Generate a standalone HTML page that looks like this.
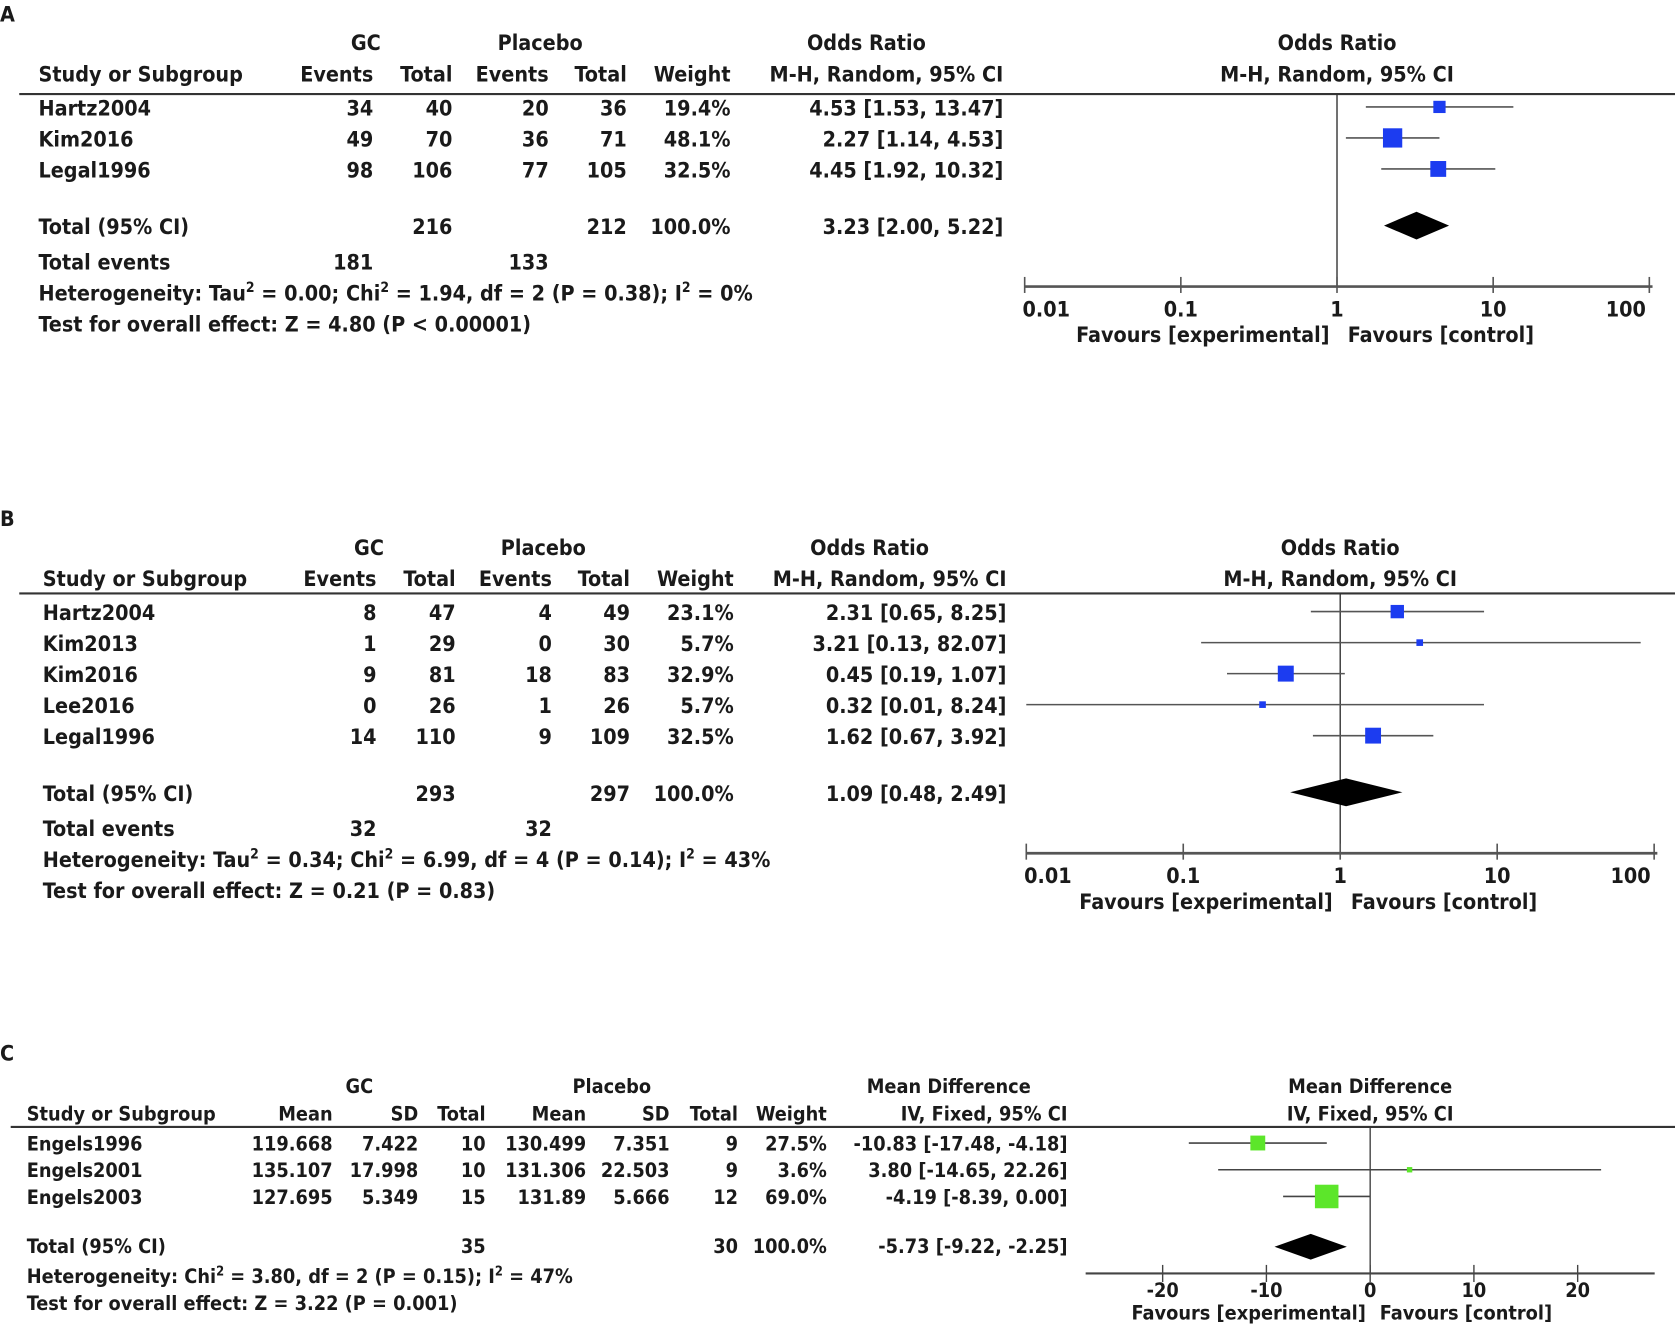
<!DOCTYPE html>
<html><head><meta charset="utf-8"><style>
html,body{margin:0;padding:0;background:#fff;width:1675px;height:1328px;overflow:hidden}
svg{display:block}
text{font-family:"DejaVu Sans Condensed","DejaVu Sans","Liberation Sans",sans-serif;font-weight:bold;fill:#1a1a1a}
</style></head><body>
<svg id="fig" width="1675" height="1328" viewBox="0 0 1566 1242" preserveAspectRatio="none" xmlns="http://www.w3.org/2000/svg"></svg>
<script>
// ---- Panel A data ----
const studiesA = ["Hartz2004","Kim2016","Legal1996"];
const gcEventsA = [34,49,98];
const gcTotalA = [40,70,106];
const plEventsA = [20,36,77];
const plTotalA = [36,71,105];
const weightA = [19.4,48.1,32.5];
const orA = [4.53,2.27,4.45];
const loA = [1.53,1.14,1.92];
const hiA = [13.47,4.53,10.32];
const totalA = {or:3.23, lo:2.00, hi:5.22};
// ---- Panel B data ----
const studiesB = ["Hartz2004","Kim2013","Kim2016","Lee2016","Legal1996"];
const gcEventsB = [8,1,9,0,14];
const gcTotalB = [47,29,81,26,110];
const plEventsB = [4,0,18,1,9];
const plTotalB = [49,30,83,26,109];
const weightB = [23.1,5.7,32.9,5.7,32.5];
const orB = [2.31,3.21,0.45,0.32,1.62];
const loB = [0.65,0.13,0.19,0.01,0.67];
const hiB = [8.25,82.07,1.07,8.24,3.92];
const totalB = {or:1.09, lo:0.48, hi:2.49};
// ---- Panel C data ----
const studiesC = ["Engels1996","Engels2001","Engels2003"];
const gcMeanC = ["119.668","135.107","127.695"];
const gcSdC = ["7.422","17.998","5.349"];
const gcTotalC = [10,10,15];
const plMeanC = ["130.499","131.306","131.89"];
const plSdC = ["7.351","22.503","5.666"];
const plTotalC = [9,9,12];
const weightC = [27.5,3.6,69.0];
const mdC = [-10.83,3.80,-4.19];
const loC = [-17.48,-14.65,-8.39];
const hiC = [-4.18,22.26,0.00];
const totalC = {md:-5.73, lo:-9.22, hi:-2.25};
const logTicks = [0.01,0.1,1,10,100];
const logTickLabels = ["0.01","0.1","1","10","100"];
const linTicks = [-20,-10,0,10,20];
const linTickLabels = ["-20","-10","0","10","20"];

const NS="http://www.w3.org/2000/svg";
const svg=document.getElementById('fig');
function el(tag,attrs,parent){const e=document.createElementNS(NS,tag);for(const k in attrs)e.setAttribute(k,attrs[k]);(parent||svg).appendChild(e);return e;}
function txt(x,y,s,size,anchor,name,parent){const t=el('text',{x:x,y:y,'font-size':size,'text-anchor':anchor||'start'},parent);t.textContent=s;


return t;}
function fmtSigned(v){return v<0?'-'+Math.abs(v).toFixed(2):v.toFixed(2);}

function oddsPanel(cfg){
  const g=el('g',{});
  
  
  const o=cfg.off, fs=20;
  txt(0,20+o.y,cfg.letter,20,'start','panel-label',g);
  const cx=o.cols;
  txt(cx[0]-7,47+o.y,'GC',fs,'middle','gc-header',g);
  txt(cx[2]-8,47+o.y,'Placebo',fs,'middle','placebo-header',g);
  txt(cx[5]-128,47+o.y,'Odds Ratio',fs,'middle','odds-ratio-header',g);
  txt(o.zero,47+o.y,'Odds Ratio',fs,'middle','plot-header',g);
  txt(o.sx,76+o.y,'Study or Subgroup',fs,'start','study-column-header',g);
  ['Events','Total','Events','Total','Weight','M-H, Random, 95% CI'].forEach((h,i)=>txt(cx[i],76+o.y,h,fs,'end','column-header',g));
  txt(o.zero,76+o.y,'M-H, Random, 95% CI',fs,'middle','plot-subheader',g);
  el('line',{x1:18,x2:1566,y1:o.lineY,y2:o.lineY,stroke:'#333','stroke-width':2},g);
  const X=v=>o.zero+Math.log10(v)*o.dec;
  el('line',{x1:o.zero,x2:o.zero,y1:o.lineY,y2:o.axisY,stroke:'#333','stroke-width':1.3},g);
  cfg.studies.forEach((s,i)=>{
    const by=o.row0+i*29, cy=by-8;
    txt(o.sx,by,s,fs,'start','study-name',g);
    txt(cx[0],by,String(cfg.ge[i]),fs,'end','gc-events',g);
    txt(cx[1],by,String(cfg.gt[i]),fs,'end','gc-total',g);
    txt(cx[2],by,String(cfg.pe[i]),fs,'end','placebo-events',g);
    txt(cx[3],by,String(cfg.pt[i]),fs,'end','placebo-total',g);
    txt(cx[4],by,cfg.w[i].toFixed(1)+'%',fs,'end','weight',g);
    txt(cx[5],by,cfg.or[i].toFixed(2)+' ['+cfg.lo[i].toFixed(2)+', '+cfg.hi[i].toFixed(2)+']',fs,'end','odds-ratio-ci',g);
    const ci=el('line',{x1:X(cfg.lo[i]),x2:X(cfg.hi[i]),y1:cy,y2:cy,stroke:'#555','stroke-width':1.5},g);
    
    
    const sz=2.6*Math.sqrt(cfg.w[i]);
    const r=el('rect',{x:X(cfg.or[i])-sz/2,y:cy-sz/2,width:sz,height:sz,fill:'#1c3cf0'},g);
    
    
  });
  const ty=o.totY;
  txt(o.sx,ty,'Total (95% CI)',fs,'start','total-label',g);
  txt(cx[1],ty,String(cfg.gt.reduce((a,b)=>a+b,0)),fs,'end','gc-total-sum',g);
  txt(cx[3],ty,String(cfg.pt.reduce((a,b)=>a+b,0)),fs,'end','placebo-total-sum',g);
  txt(cx[4],ty,'100.0%',fs,'end','weight-total',g);
  txt(cx[5],ty,cfg.tot.or.toFixed(2)+' ['+cfg.tot.lo.toFixed(2)+', '+cfg.tot.hi.toFixed(2)+']',fs,'end','total-ci',g);
  const dy=ty-8;
  const d=el('polygon',{points:`${X(cfg.tot.lo)},${dy} ${X(cfg.tot.or)},${dy-13} ${X(cfg.tot.hi)},${dy} ${X(cfg.tot.or)},${dy+13}`,fill:'#000'},g);
  
  
  txt(o.sx,ty+33,'Total events',fs,'start','total-events-label',g);
  txt(cx[0],ty+33,String(cfg.ge.reduce((a,b)=>a+b,0)),fs,'end','gc-events-sum',g);
  txt(cx[2],ty+33,String(cfg.pe.reduce((a,b)=>a+b,0)),fs,'end','placebo-events-sum',g);
  const h=el('text',{x:o.sx,y:ty+62,'font-size':fs},g);
  
  
  h.innerHTML=cfg.het;
  txt(o.sx,ty+91,cfg.test,fs,'start','overall-effect-text',g);
  const ax=el('line',{x1:X(0.01),x2:X(100)+3,y1:o.axisY,y2:o.axisY,stroke:'#555','stroke-width':2.5},g);
  
  
  logTicks.forEach((t,i)=>{
    el('line',{x1:X(t),x2:X(t),y1:o.axisY-9,y2:o.axisY+6,stroke:'#555','stroke-width':1.5},g);
    txt(X(t)+(i==0?-2:i==4?-22:0),o.axisY+28,logTickLabels[i],fs,i==0?'start':'middle','x-tick-label',g);
  });
  txt(o.zero-7,o.axisY+52,'Favours [experimental]',fs,'end','favours-experimental',g);
  txt(o.zero+10,o.axisY+52,'Favours [control]',fs,'start','favours-control',g);
}

oddsPanel({name:'panel-a',letter:'A',studies:studiesA,ge:gcEventsA,gt:gcTotalA,pe:plEventsA,pt:plTotalA,w:weightA,or:orA,lo:loA,hi:hiA,tot:totalA,
 off:{y:0,sx:36,cols:[349,423,513,586,683,938],lineY:88,row0:108,totY:219,axisY:268,zero:1250,dec:146},
 het:'Heterogeneity: Tau<tspan dy="-8" font-size="13">2</tspan><tspan dy="8"> = 0.00; Chi</tspan><tspan dy="-8" font-size="13">2</tspan><tspan dy="8"> = 1.94, df = 2 (P = 0.38); I</tspan><tspan dy="-8" font-size="13">2</tspan><tspan dy="8"> = 0%</tspan>',
 test:'Test for overall effect: Z = 4.80 (P < 0.00001)'});
oddsPanel({name:'panel-b',letter:'B',studies:studiesB,ge:gcEventsB,gt:gcTotalB,pe:plEventsB,pt:plTotalB,w:weightB,or:orB,lo:loB,hi:hiB,tot:totalB,
 off:{y:472,sx:40,cols:[352,426,516,589,686,941],lineY:555,row0:580,totY:749,axisY:798,zero:1253,dec:146.75},
 het:'Heterogeneity: Tau<tspan dy="-8" font-size="13">2</tspan><tspan dy="8"> = 0.34; Chi</tspan><tspan dy="-8" font-size="13">2</tspan><tspan dy="8"> = 6.99, df = 4 (P = 0.14); I</tspan><tspan dy="-8" font-size="13">2</tspan><tspan dy="8"> = 43%</tspan>',
 test:'Test for overall effect: Z = 0.21 (P = 0.83)'});

// ---- Panel C ----
(function(){
  const g=el('g',{});
  
  
  const fs=18.5, sx=25, cx=[311,391,454,548,626,690,773,998], zero=1281, u=9.7, axisY=1191;
  const X=v=>zero+v*u;
  txt(0,992,'C',20,'start','panel-label',g);
  txt(336,1022,'GC',fs,'middle','gc-header',g);
  txt(572,1022,'Placebo',fs,'middle','placebo-header',g);
  txt(887,1022,'Mean Difference',fs,'middle','mean-difference-header',g);
  txt(1281,1022,'Mean Difference',fs,'middle','plot-header',g);
  txt(sx,1048,'Study or Subgroup',fs,'start','study-column-header',g);
  ['Mean','SD','Total','Mean','SD','Total','Weight','IV, Fixed, 95% CI'].forEach((h,i)=>txt(cx[i],1048,h,fs,'end','column-header',g));
  txt(1281,1048,'IV, Fixed, 95% CI',fs,'middle','plot-subheader',g);
  el('line',{x1:10,x2:1566,y1:1054,y2:1054,stroke:'#333','stroke-width':2},g);
  el('line',{x1:zero,x2:zero,y1:1054,y2:axisY,stroke:'#333','stroke-width':1.2},g);
  studiesC.forEach((s,i)=>{
    const by=1076+i*25, cy=by-7;
    txt(sx,by,s,fs,'start','study-name',g);
    txt(cx[0],by,gcMeanC[i],fs,'end','gc-mean',g);
    txt(cx[1],by,gcSdC[i],fs,'end','gc-sd',g);
    txt(cx[2],by,String(gcTotalC[i]),fs,'end','gc-total',g);
    txt(cx[3],by,plMeanC[i],fs,'end','placebo-mean',g);
    txt(cx[4],by,plSdC[i],fs,'end','placebo-sd',g);
    txt(cx[5],by,String(plTotalC[i]),fs,'end','placebo-total',g);
    txt(cx[6],by,weightC[i].toFixed(1)+'%',fs,'end','weight',g);
    txt(cx[7],by,fmtSigned(mdC[i])+' ['+fmtSigned(loC[i])+', '+fmtSigned(hiC[i])+']',fs,'end','mean-difference-ci',g);
    const ci=el('line',{x1:X(loC[i]),x2:X(hiC[i]),y1:cy,y2:cy,stroke:'#444','stroke-width':1.5},g);
    
    
    const sz=2.65*Math.sqrt(weightC[i]);
    const r=el('rect',{x:X(mdC[i])-sz/2,y:cy-sz/2,width:sz,height:sz,fill:'#5ce62a'},g);
    
    
  });
  const ty=1172;
  txt(sx,ty,'Total (95% CI)',fs,'start','total-label',g);
  txt(cx[2],ty,String(gcTotalC.reduce((a,b)=>a+b,0)),fs,'end','gc-total-sum',g);
  txt(cx[5],ty,String(plTotalC.reduce((a,b)=>a+b,0)),fs,'end','placebo-total-sum',g);
  txt(cx[6],ty,'100.0%',fs,'end','weight-total',g);
  txt(cx[7],ty,fmtSigned(totalC.md)+' ['+fmtSigned(totalC.lo)+', '+fmtSigned(totalC.hi)+']',fs,'end','total-ci',g);
  const dy=ty-6;
  const d=el('polygon',{points:`${X(totalC.lo)},${dy} ${X(totalC.md)},${dy-12} ${X(totalC.hi)},${dy} ${X(totalC.md)},${dy+12}`,fill:'#000'},g);
  
  
  const h=el('text',{x:sx,y:1200,'font-size':fs},g);
  
  
  h.innerHTML='Heterogeneity: Chi<tspan dy="-7" font-size="12">2</tspan><tspan dy="7"> = 3.80, df = 2 (P = 0.15); I</tspan><tspan dy="-7" font-size="12">2</tspan><tspan dy="7"> = 47%</tspan>';
  txt(sx,1225,'Test for overall effect: Z = 3.22 (P = 0.001)',fs,'start','overall-effect-text',g);
  const ax=el('line',{x1:1015,x2:1547,y1:axisY,y2:axisY,stroke:'#444','stroke-width':2},g);
  
  
  linTicks.forEach((t,i)=>{
    el('line',{x1:X(t),x2:X(t),y1:axisY-8,y2:axisY+8,stroke:'#444','stroke-width':1.3},g);
    txt(X(t),axisY+22,linTickLabels[i],fs,'middle','x-tick-label',g);
  });
  txt(zero-4,axisY+43,'Favours [experimental]',fs,'end','favours-experimental',g);
  txt(zero+9,axisY+43,'Favours [control]',fs,'start','favours-control',g);
})();
</script>
</body></html>
